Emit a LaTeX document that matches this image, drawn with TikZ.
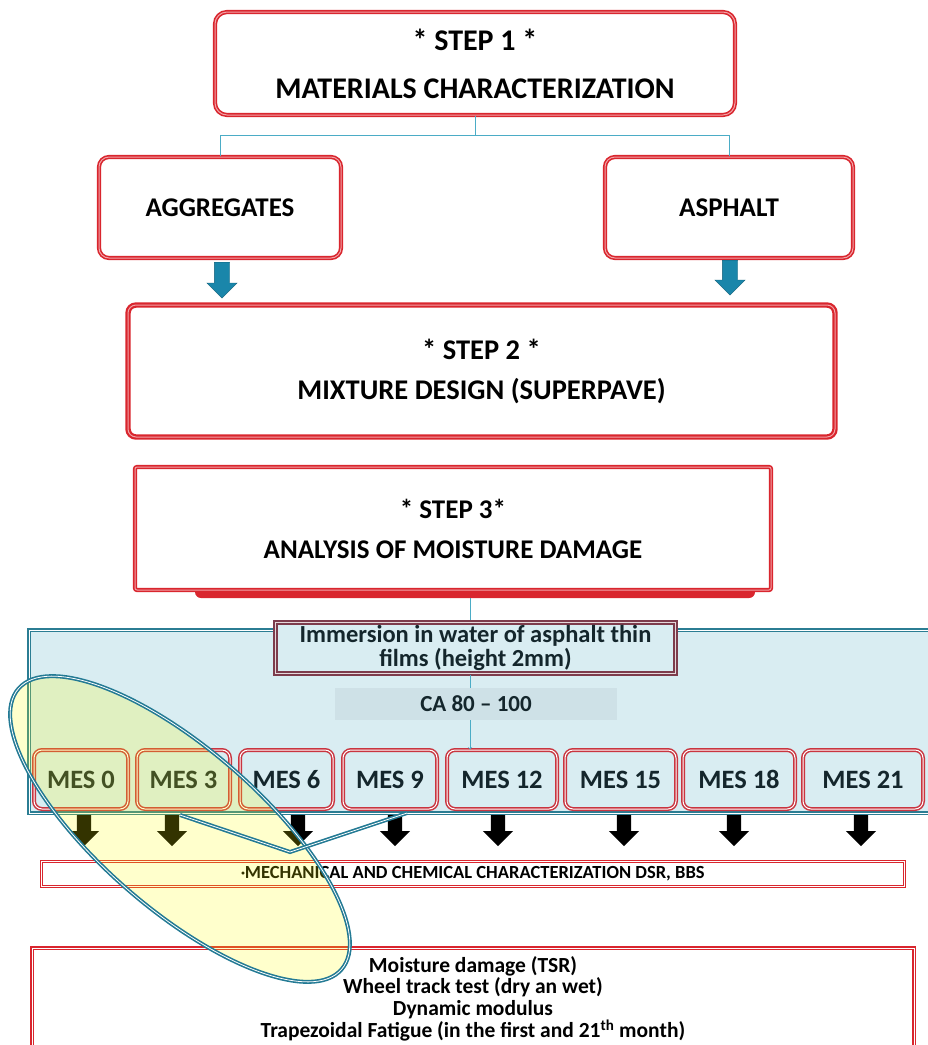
\documentclass[tikz,border=0pt]{standalone}
\usepackage{fontspec}
\setmainfont{Carlito}
\usetikzlibrary{shapes.arrows,shapes.geometric,positioning}

\definecolor{boxred}{HTML}{D9262E}
\definecolor{palered}{HTML}{F2A2A6}
\definecolor{linkblue}{HTML}{4BACC6}
\definecolor{arrowblue}{HTML}{1A86AA}
\definecolor{panelblue}{HTML}{D9EDF2}
\definecolor{paneledge}{HTML}{2B7D93}
\definecolor{filmred}{HTML}{7D3C4C}
\definecolor{gradebox}{HTML}{CEE1E7}
\definecolor{mesred}{HTML}{C93540}
\definecolor{mestext}{HTML}{14262C}
\definecolor{callyellow}{HTML}{FFFF00}
\definecolor{calledge}{HTML}{237A94}

\tikzset{
  stepbox/.style={rectangle,draw=boxred,line width=1.6pt,double=palered,double distance=1pt,fill=white,align=center,inner sep=0pt},
  mesbox/.style={rectangle,rounded corners=8pt,draw=mesred,line width=1.5pt,double=white,double distance=1pt,inner sep=0pt,minimum height=59pt,font=\bfseries\fontsize{26.5}{28}\selectfont,text=mestext},
  bluearrow/.style={single arrow,shape border rotate=270,fill=arrowblue,draw=arrowblue!70!black,line width=0.4pt,inner sep=7.5pt,single arrow head extend=7.5pt,anchor=tail},
  blackarrow/.style={single arrow,shape border rotate=270,fill=black,inner sep=7pt,single arrow head extend=8pt,minimum height=31pt,anchor=tail},
  link/.style={draw=linkblue,line width=0.8pt}
}

\begin{document}
\begin{tikzpicture}[x=1pt,y=-1pt]
\useasboundingbox (0,0) rectangle (928,1045);
\clip (0,0) rectangle (928,1045);

% materials
\draw(475,63.5) node[stepbox,rounded corners=12pt,minimum width=520pt,minimum height=103pt,font=\bfseries\fontsize{30}{48}\selectfont](1){* STEP 1 *\\MATERIALS CHARACTERIZATION};

\draw(220,207.5) node[stepbox,rounded corners=10pt,minimum width=242pt,minimum height=101pt,font=\bfseries\fontsize{27}{30}\selectfont](2){AGGREGATES};

\draw(729,207.5) node[stepbox,rounded corners=10pt,minimum width=248pt,minimum height=101pt,font=\bfseries\fontsize{27}{30}\selectfont](3){ASPHALT};

\draw[link] (1.south) -- ++(0,20) -| (2.north);
\draw[link] (1.south) -- ++(0,20) -| (3.north);

\draw(222,262) node[bluearrow,minimum height=36pt](4){};
\draw(730,260) node[bluearrow,minimum height=35pt](5){};

% mixture
\draw(481.5,371) node[stepbox,rounded corners=8pt,line width=2.2pt,minimum width=707pt,minimum height=132pt,font=\bfseries\fontsize{28.5}{40}\selectfont](6){* STEP 2 *\\MIXTURE DESIGN (SUPERPAVE)};

% moisture damage
\draw(475,589) node[rectangle,rounded corners=6pt,fill=boxred,minimum width=560pt,minimum height=18pt,inner sep=0pt](7){};

\draw(453,528.5) node[stepbox,rounded corners=2pt,minimum width=636pt,minimum height=123pt,font=\bfseries\fontsize{27}{40}\selectfont](8){* STEP 3*\\ANALYSIS OF MOISTURE DAMAGE};

\draw(481,721.5) node[rectangle,fill=panelblue,draw=paneledge,line width=1.3pt,double=white,double distance=0.8pt,minimum width=904pt,minimum height=183pt,inner sep=0pt](9){};

\coordinate (c1) at (470,598);
\draw[link,line width=0.6pt] (c1) -- (c1 |- 9.north);

\draw(475.5,648) node[rectangle,draw=filmred,line width=2pt,double=filmred!20,double distance=1pt,fill=panelblue,minimum width=400pt,minimum height=51pt,inner sep=0pt,align=center,text=mestext,font=\bfseries\fontsize{24.5}{24}\selectfont](10){Immersion in water of asphalt thin\\films (height 2mm)};

\draw(476,704) node[rectangle,fill=gradebox,minimum width=282pt,minimum height=32pt,inner sep=0pt,text=mestext,font=\bfseries\fontsize{23}{24}\selectfont](11){CA 80 -- 100};

\draw(81,779.5) node[mesbox,minimum width=94pt](12){MES 0};
\draw(183.5,779.5) node[mesbox,minimum width=93pt](13){MES 3};
\draw(286.5,779.5) node[mesbox,minimum width=93pt](14){MES 6};
\draw(390,779.5) node[mesbox,minimum width=94pt](15){MES 9};
\draw(502,779.5) node[mesbox,minimum width=110pt](16){MES 12};
\draw(620.5,779.5) node[mesbox,minimum width=111pt](17){MES 15};
\draw(739,779.5) node[mesbox,minimum width=112pt](18){MES 18};
\draw(863,779.5) node[mesbox,minimum width=120pt](19){MES 21};

\draw[link,line width=0.6pt] (10.south -| c1) -- (11.north -| c1);
\draw[link,line width=0.6pt,->] (11.south -| c1) -- (c1 |- 16.north);

\draw(84,815) node[blackarrow](20){};
\draw(172,815) node[blackarrow](21){};
\draw(298,815) node[blackarrow](22){};
\draw(395,815) node[blackarrow](23){};
\draw(498,815) node[blackarrow](24){};
\draw(624,815) node[blackarrow](25){};
\draw(734,815) node[blackarrow](26){};
\draw(861,815) node[blackarrow](27){};

\draw(473,874) node[rectangle,draw=boxred,line width=1pt,double=white,double distance=0.8pt,fill=white,minimum width=863pt,minimum height=25pt,inner sep=0pt,font=\bfseries\fontsize{18.5}{20}\selectfont](28){\raisebox{3pt}{\fontsize{7}{7}\selectfont\textbullet}MECHANICAL AND CHEMICAL CHARACTERIZATION DSR, BBS};

\draw(473,999) node[rectangle,draw=boxred,line width=1.6pt,double=white,double distance=1pt,fill=white,minimum width=882pt,minimum height=102pt,inner sep=0pt,align=center,font=\bfseries\fontsize{21.5}{21.3}\selectfont](29){Moisture damage (TSR)\\Wheel track test (dry an wet)\\Dynamic modulus\\Trapezoidal Fatigue (in the first and 21\textsuperscript{th} month)};

% callout
\draw(180,829) node[ellipse,rotate=-41,draw=calledge,line width=1.6pt,double=white,double distance=0.8pt,fill=callyellow,fill opacity=0.2,minimum width=428pt,minimum height=160pt,inner sep=0pt](30){};
\draw[draw=calledge,line width=1.6pt,double=white,double distance=0.8pt] (180,815) -- (290,852) -- (407,813);

\end{tikzpicture}
\end{document}
